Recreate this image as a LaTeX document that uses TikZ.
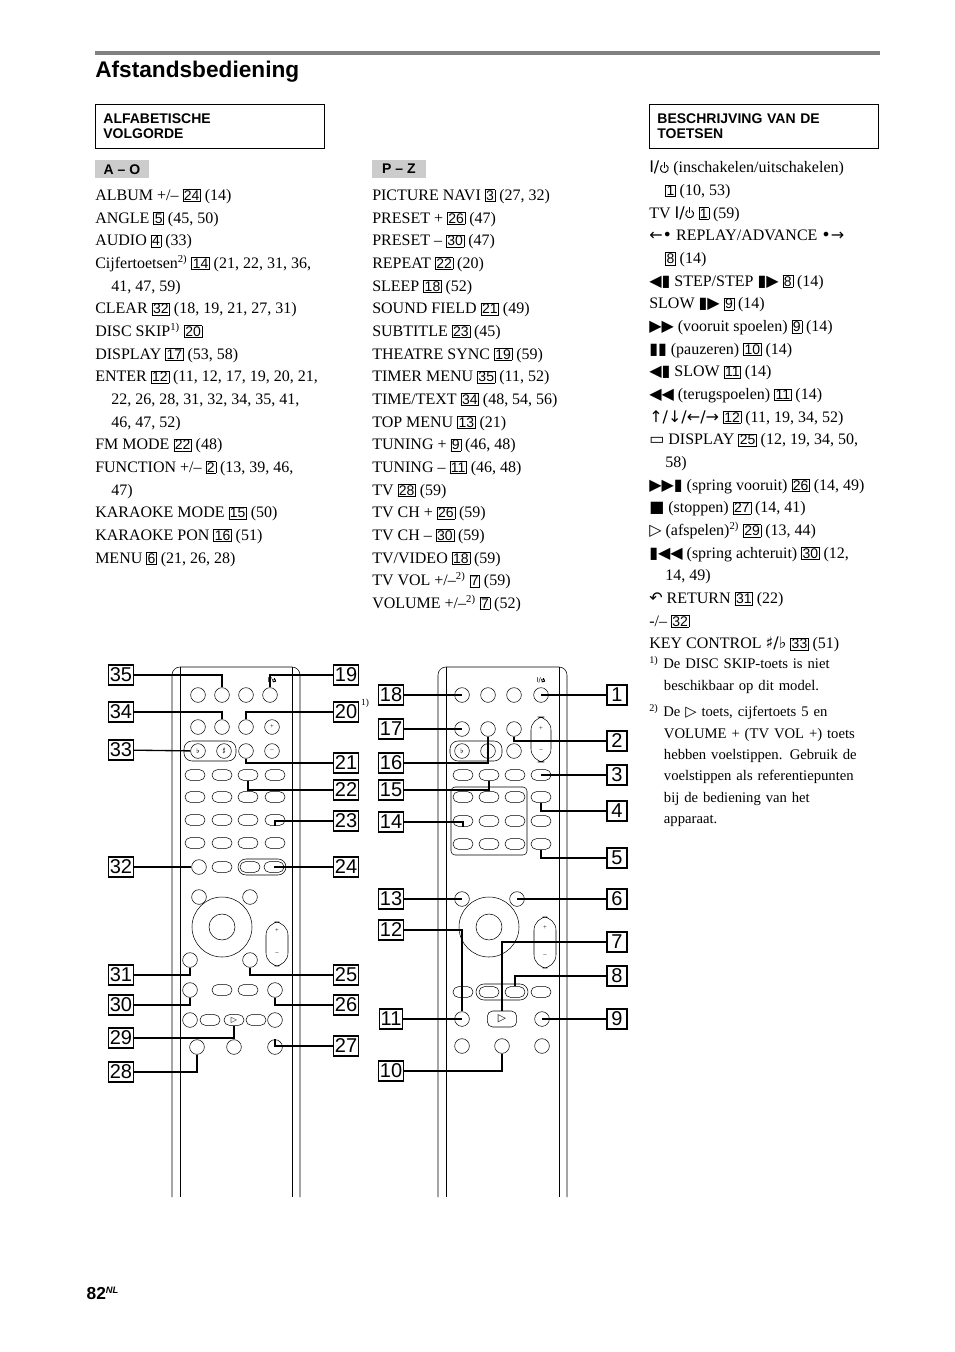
\documentclass[tikz,border=0pt]{standalone}
\usepackage{fontspec}
\setmainfont{Liberation Serif}
\newfontfamily\hd{Liberation Sans}
\newfontfamily\sym{DejaVu Sans}
\tikzset{
  px/.style={x=0.75pt,y=-0.75pt},
  body/.style={anchor=north west,inner sep=0pt,align=left,font=\fontsize{12}{17}\selectfont},
  hbox/.style={draw,line width=0.6pt,anchor=north west,minimum height=33pt,text width=160pt,inner xsep=6pt,align=left,font=\hd\bfseries\fontsize{10.5}{11}\selectfont},
  tab/.style={fill=black!20,anchor=north west,inner sep=3pt,minimum width=40pt,font=\hd\bfseries\fontsize{10.5}{11}\selectfont},
  lab/.style={draw,line width=0.9pt,inner sep=1pt,minimum size=15pt,font=\hd\fontsize{15}{15}\selectfont},
  btn/.style={draw,circle,minimum size=11pt,inner sep=0pt},
  key/.style={draw,rounded corners=4pt,minimum width=15pt,minimum height=8pt,inner sep=0pt},
  lead/.style={line width=1pt}
}
\newcommand\bn[1]{\fbox{\hd\fontsize{10.5}{10}\selectfont#1}}
\newcommand\pw{\sym I/\tikz[baseline=-0.5ex,line width=0.7pt]{\draw (60:0.45ex) arc (60:-240:0.45ex);\draw (0,0.1ex) -- (0,0.75ex);}}
\setlength\fboxsep{0.6pt}
\begin{document}
\begin{tikzpicture}[px]
\useasboundingbox (0,0) rectangle (954,1352);
\draw[line width=3pt,black!50] (95,53) -- (880,53);
\node[anchor=west,inner sep=0pt,font=\hd\bfseries\fontsize{17}{17}\selectfont] at (95,72) {Afstandsbediening};
\node[hbox] at (95,104) {ALFABETISCHE\\VOLGORDE};
\node[hbox] at (649,104) {BESCHRIJVING VAN DE\\TOETSEN};
\node[tab] at (95,160) {A – O};
\node[tab] at (372,160) {P – Z};
\node[body] at (95,189) {ALBUM +/– \bn{24} (14)\\ANGLE \bn{5} (45, 50)\\AUDIO \bn{4} (33)\\Cijfertoetsen\textsuperscript{2)} \bn{14} (21, 22, 31, 36,\\\quad 41, 47, 59)\\CLEAR \bn{32} (18, 19, 21, 27, 31)\\DISC SKIP\textsuperscript{1)} \bn{20}\\DISPLAY \bn{17} (53, 58)\\ENTER \bn{12} (11, 12, 17, 19, 20, 21,\\\quad 22, 26, 28, 31, 32, 34, 35, 41,\\\quad 46, 47, 52)\\FM MODE \bn{22} (48)\\FUNCTION +/– \bn{2} (13, 39, 46,\\\quad 47)\\KARAOKE MODE \bn{15} (50)\\KARAOKE PON \bn{16} (51)\\MENU \bn{6} (21, 26, 28)};
\node[body] at (372,189) {PICTURE NAVI \bn{3} (27, 32)\\PRESET + \bn{26} (47)\\PRESET – \bn{30} (47)\\REPEAT \bn{22} (20)\\SLEEP \bn{18} (52)\\SOUND FIELD \bn{21} (49)\\SUBTITLE \bn{23} (45)\\THEATRE SYNC \bn{19} (59)\\TIMER MENU \bn{35} (11, 52)\\TIME/TEXT \bn{34} (48, 54, 56)\\TOP MENU \bn{13} (21)\\TUNING + \bn{9} (46, 48)\\TUNING – \bn{11} (46, 48)\\TV \bn{28} (59)\\TV CH + \bn{26} (59)\\TV CH – \bn{30} (59)\\TV/VIDEO \bn{18} (59)\\TV VOL +/–\textsuperscript{2)} \bn{7} (59)\\VOLUME +/–\textsuperscript{2)} \bn{7} (52)};
\node[body] at (649,161) {{\pw} (inschakelen/uitschakelen)\\\quad\bn{1} (10, 53)\\TV {\pw} \bn{1} (59)\\{\sym ←•} REPLAY/ADVANCE {\sym •→}\\\quad\bn{8} (14)\\{\sym ◀▮} STEP/STEP {\sym ▮▶} \bn{8} (14)\\SLOW {\sym ▮▶} \bn{9} (14)\\{\sym ▶▶} (vooruit spoelen) \bn{9} (14)\\{\sym ▮▮} (pauzeren) \bn{10} (14)\\{\sym ◀▮} SLOW \bn{11} (14)\\{\sym ◀◀} (terugspoelen) \bn{11} (14)\\{\sym ↑/↓/←/→} \bn{12} (11, 19, 34, 52)\\{\sym ▭} DISPLAY \bn{25} (12, 19, 34, 50,\\\quad 58)\\{\sym ▶▶▮} (spring vooruit) \bn{26} (14, 49)\\{\sym ■} (stoppen) \bn{27} (14, 41)\\{\sym ▷} (afspelen)\textsuperscript{2)} \bn{29} (13, 44)\\{\sym ▮◀◀} (spring achteruit) \bn{30} (12,\\\quad 14, 49)\\{\sym ↶} RETURN \bn{31} (22)\\-/-- \bn{32}\\KEY CONTROL {\sym ♯/♭} \bn{33} (51)};
\node[body,text width=165pt,font=\fontsize{11}{16}\selectfont] at (649,656) {\textsuperscript{1)} De DISC SKIP-toets is niet\\\quad beschikbaar op dit model.};
\node[body,text width=170pt,font=\fontsize{11}{16}\selectfont] at (649,704) {\textsuperscript{2)} De {\sym ▷} toets, cijfertoets 5 en\\\quad VOLUME + (TV VOL +) toets\\\quad hebben voelstippen. Gebruik de\\\quad voelstippen als referentiepunten\\\quad bij de bediening van het\\\quad apparaat.};
\node[anchor=west,font=\hd\bfseries\fontsize{13}{13}\selectfont] at (82,1293) {82\textsuperscript{\textit{\fontsize{7}{7}\selectfont NL}}};
\node[font=\fontsize{7}{7}\selectfont] at (365,703) {1)};
% LEFT REMOTE
\draw[rounded corners=6pt] (172,1197) -- (172,667) -- (300,667) -- (300,1197);
\draw (180,667) -- (180,1197) (292,667) -- (292,1197);
\foreach \n/\x/\y in {a/198/695,b/222/695,c/246/695,d/270/695,e/198/727,f/222/727,g/246/727,h/272/727,i/246/751,j/272/751,k/199/867,l/199/897,m/250/897,n/190/960,o/250/960,p/190/990,q/275/990,r/197/1047,s/234/1047,t/275/1047,u/190/1020,v/275/1020}
  \node[btn] (L\n) at (\x,\y) {};
\node[font=\fontsize{5}{5}\selectfont] at (272,680) {\pw};
\node[font=\tiny] at (272,727) {+}; \node[font=\tiny] at (272,751) {--};
\draw[rounded corners=6pt] (184,741) rectangle (236,761);
\node[btn,font=\tiny] (Lsh) at (224,751) {$\sharp$}; \node[btn,font=\tiny] (Lfl) at (198,751) {$\flat$};
\foreach \y in {775,797,820,843} \foreach \x in {195,222,248,275} \node[key] (K\x\y) at (\x,\y) {};
\node[key] (Lw) at (222,867) {};
\draw[rounded corners=6pt] (238,859) rectangle (286,875);
\node[key] (Lx) at (250,867) {}; \node[key] (Ly) at (274,867) {};
\draw (222,927) circle (30) circle (13);
\draw[rounded corners=10pt] (266,922) rectangle (288,966);
\node[font=\tiny] at (277,931) {+}; \node[font=\tiny] at (277,954) {--};
\foreach \x/\n in {222/z1,248/z2} \node[key] (L\n) at (\x,990) {};
\foreach \x/\n in {210/y1,234/y2,256/y3} \node[key] (L\n) at (\x,1020) {};
\node[font=\fontsize{6}{6}\selectfont\sym] at (234,1020) {▷};
% RIGHT REMOTE
\draw[rounded corners=6pt] (438,1197) -- (438,667) -- (567,667) -- (567,1197);
\draw (446,667) -- (446,1197) (559,667) -- (559,1197);
\foreach \n/\x/\y in {a/462/695,b/488/695,c/514/695,d/541/695,e/462/729,f/488/729,g/514/729,i/462/899,j/517/899,k/462/1019,l/542/1019,m/462/1046,n/502/1046,o/542/1046}
  \node[btn] (R\n) at (\x,\y) {};
\node[font=\fontsize{5}{5}\selectfont] at (541,680) {\pw};
\draw[rounded corners=6pt] (450,741) rectangle (502,761);
\node[btn,font=\tiny] at (462,751) {$\flat$}; \node[btn,font=\tiny] at (488,751) {$\sharp$};
\node[btn] (Rh) at (514,751) {};
\draw[rounded corners=10pt] (531,717) rectangle (551,762);
\node[font=\tiny] at (541,729) {+}; \node[font=\tiny] at (541,751) {--};
\foreach \y in {775,797,821,844} \foreach \x in {463,489,515,541} \node[key] (Q\x\y) at (\x,\y) {};
\draw[rounded corners=3pt] (451,787) rectangle (527,855);
\draw (489,927) circle (30) circle (13);
\draw[rounded corners=10pt] (534,917) rectangle (556,968);
\node[font=\tiny] at (545,928) {+}; \node[font=\tiny] at (545,956) {--};
\foreach \x/\n in {463/x1,489/x2,515/x3,541/x4} \node[key] (R\n) at (\x,992) {};
\draw[rounded corners=6pt] (476,984) rectangle (528,1000);
\node[key,minimum width=22pt,minimum height=12pt] (Rp) at (502,1019) {};
\node[font=\fontsize{8}{8}\selectfont\sym] at (502,1019) {▷};
% LABELS + LEADERS
\foreach \t/\y/\b/\s in {35/675/Lb/0,34/712/Lf/0,33/750/Lfl/1,32/867/Lk/1,31/975/Ln/0,30/1005/Lp/0,29/1038/Ly2/0,28/1072/Lr/0}{
  \node[lab] (N\t) at (121,\y) {\t};
  \ifnum\s=1 \draw[lead] (N\t) -- (\b); \else \draw[lead] (N\t) -| (\b); \fi}
\foreach \t/\y/\b in {19/675/Ld,20/712/Lg,21/763/Li,22/790/K248775,23/821/K275820,24/867/Ly,25/975/Lo,26/1005/Lq,27/1046/Lt}{
  \node[lab] (N\t) at (346,\y) {\t};
  \draw[lead] (N\t) -| (\b);}
\foreach \t/\y/\b in {18/695/Ra,17/729/Re,16/763/Rf,15/790/Q489775,14/822/Q463821,13/899/Ri,12/930/Rk,11/1019/Rk,10/1071/Rn}{
  \node[lab] (M\t) at (391,\y) {\t};
  \draw[lead] (M\t) -| (\b);}
\foreach \t/\y/\b in {1/695/Rd,2/741/Rg,3/775/Q541775,4/811/Q541797,5/858/Q541844,6/899/Rj,7/942/Rp,8/976/Rx3,9/1019/Rl}{
  \node[lab] (P\t) at (617,\y) {\t};
  \draw[lead] (P\t) -| (\b);}
\end{tikzpicture}
\end{document}
